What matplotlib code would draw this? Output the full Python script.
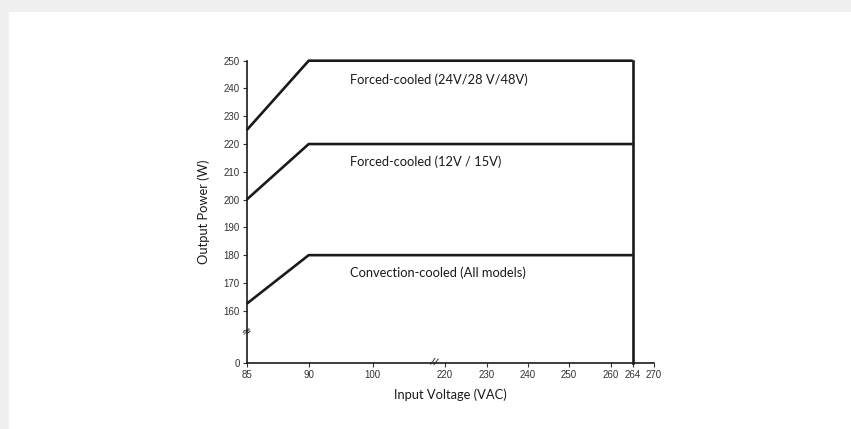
import numpy as np
import matplotlib.pyplot as plt
from matplotlib.patches import Rectangle

plt.rcParams['font.family'] = ['Lato', 'DejaVu Sans']

# data
volt_ticks = [85, 90, 100, 220, 230, 240, 250, 260, 264, 270]
power_ticks = [0, 160, 170, 180, 190, 200, 210, 220, 230, 240, 250]

curves = {
    'Forced-cooled (24V/28 V/48V)': ([85, 90, 264], [225, 250, 250]),
    'Forced-cooled (12V / 15V)': ([85, 90, 264], [200, 220, 220]),
    'Convection-cooled (All models)': ([85, 90, 264], [162.5, 180, 180]),
}
label_y = [243, 213.5, 173.5]

# schematic (non-linear) axis scales: value -> drawing position
x_pos = [0, 62, 126, 198, 240, 281, 322, 364, 386, 407]
y_vals = [0, 160, 250]
y_pos = [0, 52, 302]

def fx(v):
    return np.interp(v, volt_ticks, x_pos)

def fy(v):
    return np.interp(v, y_vals, y_pos)

fig = plt.figure(figsize=(8.51, 4.29), dpi=100)
fig.patches.append(Rectangle((0, 0), 1, 1, transform=fig.transFigure,
                             color='#f0f0f0', zorder=-3))
fig.patches.append(Rectangle((9 / 851, 0), 1, 1 - 12 / 429, transform=fig.transFigure,
                             color='white', zorder=-2))

ax = fig.add_axes([246.7 / 851, 1 - 362.7 / 429, 407 / 851, 302 / 429])
ax.set_xlim(0, 407)
ax.set_ylim(0, 302)

for (name, (xs, ys)), ly in zip(curves.items(), label_y):
    ax.plot(fx(xs), fy(ys), color='#1a1a1a', lw=1.9, solid_capstyle='butt', clip_on=False)
    ax.text(fx(85) + 103, fy(ly), name, fontsize=9.3, color='#1a1a1a', va='center')

# cut-off at 264 VAC
ax.plot(fx([264, 264]), fy([0, 250]), color='#1a1a1a', lw=1.9, clip_on=False)

for s in ['top', 'right']:
    ax.spines[s].set_visible(False)
for s in ['left', 'bottom']:
    ax.spines[s].set_linewidth(1.2)
    ax.spines[s].set_color('#1a1a1a')

ax.set_xticks(fx(volt_ticks))
ax.set_xticklabels([str(v) for v in volt_ticks])
ax.set_yticks(fy(power_ticks))
ax.set_yticklabels([str(v) for v in power_ticks])
ax.tick_params(labelsize=7, colors='#333333', length=3, width=0.8, pad=2)
for lab in ax.get_xticklabels() + ax.get_yticklabels():
    lab.set_family(['Liberation Sans', 'DejaVu Sans'])

# axis break marks
ax.text(187, 1, '//', fontsize=7, ha='center', va='center', rotation=-10,
        fontstyle='italic', color='#1a1a1a', fontweight='bold')
ax.text(0, 31, '\u2248', fontsize=9, ha='center', va='center', rotation=25,
        color='#1a1a1a', family=['DejaVu Sans'])

ax.set_xlabel('Input Voltage (VAC)', fontsize=9.3, color='#1a1a1a', labelpad=6)
ax.set_ylabel('Output Power (W)', fontsize=9.3, color='#1a1a1a', labelpad=10)

fig.savefig('out.png', dpi=100)
